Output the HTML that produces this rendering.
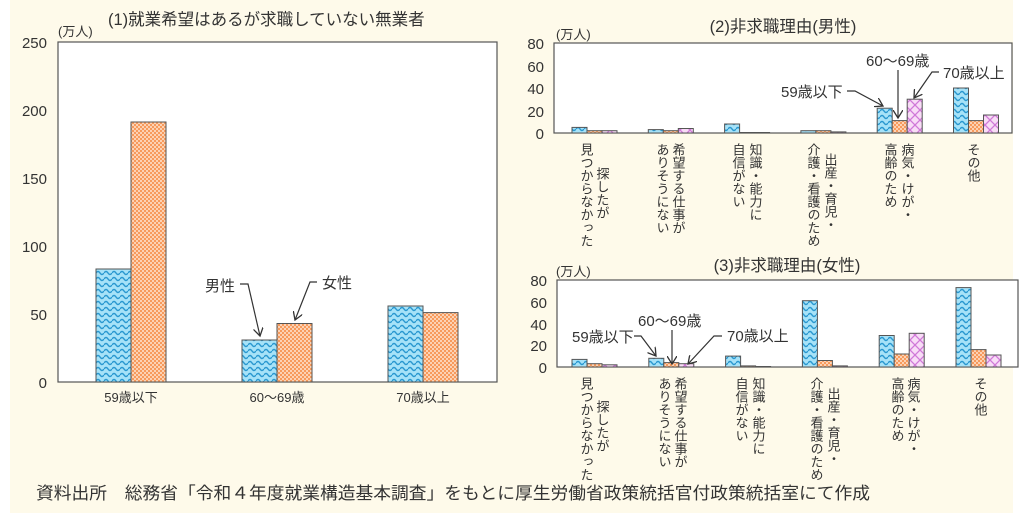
<!DOCTYPE html>
<html><head><meta charset="utf-8"><style>
html,body{margin:0;padding:0;background:#fff;}
svg{display:block;font-family:"Liberation Sans","Noto Sans CJK JP",sans-serif;}
</style></head><body>
<svg width="1023" height="517" viewBox="0 0 1023 517" xmlns="http://www.w3.org/2000/svg">
<defs>
<pattern id="pb" width="8" height="6" patternUnits="userSpaceOnUse">
<rect width="8" height="6" fill="#a6e2f8"/>
<path d="M0 3 Q2 0 4 3 T8 3" fill="none" stroke="#2a98d0" stroke-width="1.4"/>
</pattern>
<pattern id="po" width="4" height="4" patternUnits="userSpaceOnUse">
<rect width="4" height="4" fill="#f79a5c"/>
<rect x="0" y="0" width="2" height="2" fill="#fcd2b4"/>
<rect x="2" y="2" width="2" height="2" fill="#fcd2b4"/>
</pattern>
<pattern id="pp" width="10" height="10" patternUnits="userSpaceOnUse">
<rect width="10" height="10" fill="#f8dcf6"/>
<path d="M0 0L10 10M10 0L0 10" stroke="#d078d8" stroke-width="1.3"/>
</pattern>
<marker id="ar" markerWidth="10" markerHeight="10" refX="8" refY="5" orient="auto" markerUnits="userSpaceOnUse">
<path d="M0 0L8 5L0 10" fill="none" stroke="#333" stroke-width="1.3"/>
</marker>
</defs>
<rect x="0" y="0" width="1023" height="517" fill="#fff"/>
<rect x="10" y="0" width="1003" height="513" fill="#fefaea"/>

<!-- Chart 1 -->
<text x="108" y="25" font-size="16.5" fill="#333">(1)就業希望はあるが求職していない無業者</text>
<text x="58" y="36" font-size="13" fill="#333">(万人)</text>
<rect x="58" y="42" width="439" height="340" fill="#fff" stroke="#555" stroke-width="1.2"/>
<g font-size="15" fill="#333" text-anchor="end">
<text x="47" y="48">250</text><text x="47" y="116">200</text><text x="47" y="184">150</text>
<text x="47" y="252">100</text><text x="47" y="320">50</text><text x="47" y="388">0</text>
</g>
<rect x="96" y="269" width="35" height="113" fill="url(#pb)" stroke="#555"/>
<rect x="131" y="122" width="35" height="260" fill="url(#po)" stroke="#555"/>
<rect x="242" y="340" width="35" height="42" fill="url(#pb)" stroke="#555"/>
<rect x="277" y="323.5" width="35" height="58.5" fill="url(#po)" stroke="#555"/>
<rect x="388" y="306" width="35" height="76" fill="url(#pb)" stroke="#555"/>
<rect x="423" y="312.6" width="35" height="69.4" fill="url(#po)" stroke="#555"/>
<g font-size="13" fill="#333" text-anchor="middle">
<text x="131" y="402">59歳以下</text><text x="277" y="402">60～69歳</text><text x="423" y="402">70歳以上</text>
</g>
<text x="205" y="291" font-size="15" fill="#333">男性</text>
<text x="322" y="288" font-size="15" fill="#333">女性</text>
<path d="M240 284L248 284L260 336" fill="none" stroke="#333" stroke-width="1.2" marker-end="url(#ar)"/>
<path d="M317 282L310 282L295 320" fill="none" stroke="#333" stroke-width="1.2" marker-end="url(#ar)"/>

<!-- Chart 2 -->
<text x="783" y="32" font-size="16.5" fill="#333" text-anchor="middle">(2)非求職理由(男性)</text>
<text x="556" y="39" font-size="13" fill="#333">(万人)</text>
<rect x="554" y="43" width="458" height="90" fill="#fff" stroke="#555" stroke-width="1.2"/>
<g font-size="15" fill="#333" text-anchor="end">
<text x="544" y="49">80</text><text x="544" y="72">60</text><text x="544" y="94">40</text><text x="544" y="117">20</text><text x="544" y="139">0</text>
</g>
<g stroke="#555">
<rect x="572" y="127.4" width="15" height="5.6" fill="url(#pb)"/><rect x="587" y="130.7" width="15" height="2.3" fill="url(#po)"/><rect x="602" y="130.7" width="15" height="2.3" fill="url(#pp)"/>
<rect x="648.3" y="129.6" width="15" height="3.4" fill="url(#pb)"/><rect x="663.3" y="130.7" width="15" height="2.3" fill="url(#po)"/><rect x="678.3" y="128.5" width="15" height="4.5" fill="url(#pp)"/>
<rect x="724.6" y="124" width="15" height="9" fill="url(#pb)"/><rect x="739.6" y="132.5" width="15" height="0.5" fill="url(#po)"/><rect x="754.6" y="132.5" width="15" height="0.5" fill="url(#pp)"/>
<rect x="800.9" y="130.7" width="15" height="2.3" fill="url(#pb)"/><rect x="815.9" y="130.7" width="15" height="2.3" fill="url(#po)"/><rect x="830.9" y="131.9" width="15" height="1.1" fill="url(#pp)"/>
<rect x="877.2" y="108.2" width="15" height="24.8" fill="url(#pb)"/><rect x="892.2" y="120.6" width="15" height="12.4" fill="url(#po)"/><rect x="907.2" y="99.2" width="15" height="33.8" fill="url(#pp)"/>
<rect x="953.5" y="88" width="15" height="45" fill="url(#pb)"/><rect x="968.5" y="120.6" width="15" height="12.4" fill="url(#po)"/><rect x="983.5" y="115" width="15" height="18" fill="url(#pp)"/>
</g>
<text x="781" y="97" font-size="15" fill="#333">59歳以下</text>
<text x="866" y="66" font-size="15" fill="#333">60～69歳</text>
<text x="943" y="78" font-size="15" fill="#333">70歳以上</text>
<path d="M847 91L855 91L883 106" fill="none" stroke="#333" stroke-width="1.2" marker-end="url(#ar)"/>
<path d="M898 70L898 118" fill="none" stroke="#333" stroke-width="1.2" marker-end="url(#ar)"/>
<path d="M939 72L932 72L914 98" fill="none" stroke="#333" stroke-width="1.2" marker-end="url(#ar)"/>
<g font-size="13" fill="#333" style="writing-mode:vertical-rl">
<text x="602" y="167">探したが</text><text x="586" y="143">見つからなかった</text>
<text x="678" y="143">希望する仕事が</text><text x="662" y="143">ありそうにない</text>
<text x="755" y="143">知識・能力に</text><text x="738" y="143">自信がない</text>
<text x="830" y="153">出産・育児・</text><text x="813" y="143">介護・看護のため</text>
<text x="907" y="143">病気・けが・</text><text x="890" y="143">高齢のため</text>
<text x="973" y="143">その他</text>
</g>

<!-- Chart 3 -->
<text x="787" y="271" font-size="16.5" fill="#333" text-anchor="middle">(3)非求職理由(女性)</text>
<text x="556" y="276" font-size="13" fill="#333">(万人)</text>
<rect x="557" y="280" width="461" height="87" fill="#fff" stroke="#555" stroke-width="1.2"/>
<g font-size="15" fill="#333" text-anchor="end">
<text x="547" y="286">80</text><text x="547" y="308">60</text><text x="547" y="330">40</text><text x="547" y="351">20</text><text x="547" y="373">0</text>
</g>
<g stroke="#555">
<rect x="572" y="359.4" width="15" height="7.6" fill="url(#pb)"/><rect x="587" y="363.7" width="15" height="3.3" fill="url(#po)"/><rect x="602" y="364.8" width="15" height="2.2" fill="url(#pp)"/>
<rect x="648.8" y="358.3" width="15" height="8.7" fill="url(#pb)"/><rect x="663.8" y="362.6" width="15" height="4.4" fill="url(#po)"/><rect x="678.8" y="363.7" width="15" height="3.3" fill="url(#pp)"/>
<rect x="725.6" y="356.1" width="15" height="10.9" fill="url(#pb)"/><rect x="740.6" y="365.9" width="15" height="1.1" fill="url(#po)"/><rect x="755.6" y="366.5" width="15" height="0.5" fill="url(#pp)"/>
<rect x="802.4" y="300.7" width="15" height="66.3" fill="url(#pb)"/><rect x="817.4" y="360.5" width="15" height="6.5" fill="url(#po)"/><rect x="832.4" y="365.9" width="15" height="1.1" fill="url(#pp)"/>
<rect x="879.2" y="335.5" width="15" height="31.5" fill="url(#pb)"/><rect x="894.2" y="354" width="15" height="13" fill="url(#po)"/><rect x="909.2" y="333.3" width="15" height="33.7" fill="url(#pp)"/>
<rect x="956" y="287.6" width="15" height="79.4" fill="url(#pb)"/><rect x="971" y="349.6" width="15" height="17.4" fill="url(#po)"/><rect x="986" y="355" width="15" height="12" fill="url(#pp)"/>
</g>
<text x="572" y="342" font-size="15" fill="#333">59歳以下</text>
<text x="638" y="326" font-size="15" fill="#333">60～69歳</text>
<text x="727" y="341" font-size="15" fill="#333">70歳以上</text>
<path d="M634 336L641 336L656 356" fill="none" stroke="#333" stroke-width="1.2" marker-end="url(#ar)"/>
<path d="M672 330L672 364" fill="none" stroke="#333" stroke-width="1.2" marker-end="url(#ar)"/>
<path d="M722 336L714 336L688 364" fill="none" stroke="#333" stroke-width="1.2" marker-end="url(#ar)"/>
<g font-size="13" fill="#333" style="writing-mode:vertical-rl">
<text x="602" y="400">探したが</text><text x="586" y="377">見つからなかった</text>
<text x="680" y="377">希望する仕事が</text><text x="664" y="377">ありそうにない</text>
<text x="758" y="377">知識・能力に</text><text x="741" y="377">自信がない</text>
<text x="833" y="387">出産・育児・</text><text x="816" y="377">介護・看護のため</text>
<text x="913" y="377">病気・けが・</text><text x="897" y="377">高齢のため</text>
<text x="980" y="377">その他</text>
</g>

<text x="36" y="499" font-size="17" fill="#333" textLength="834" lengthAdjust="spacingAndGlyphs">資料出所　総務省「令和４年度就業構造基本調査」をもとに厚生労働省政策統括官付政策統括室にて作成</text>
</svg>
</body></html>
